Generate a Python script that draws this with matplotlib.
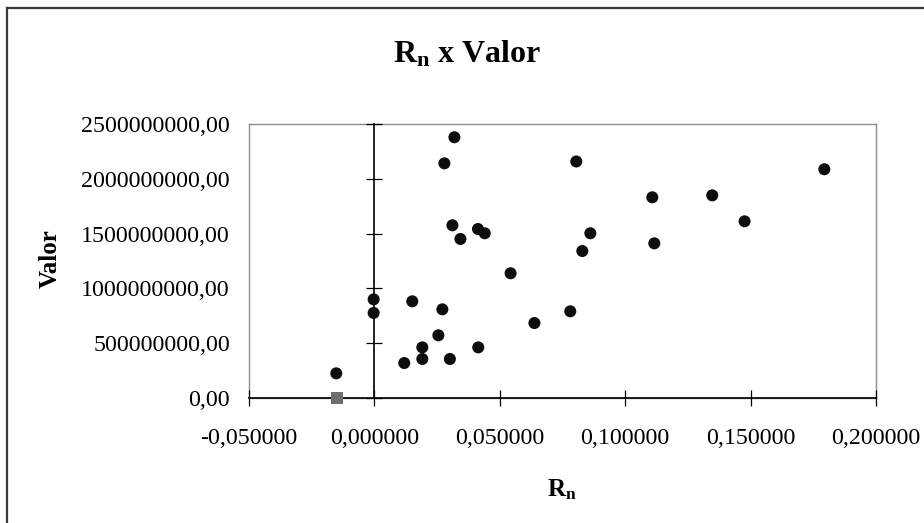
import matplotlib
matplotlib.use("Agg")
import matplotlib.pyplot as plt
from matplotlib.ticker import FuncFormatter, MultipleLocator
from matplotlib.lines import Line2D

plt.rcParams['font.family'] = ['Liberation Serif', 'DejaVu Serif']
plt.rcParams['mathtext.fontset'] = 'custom'
plt.rcParams['mathtext.rm'] = 'Liberation Serif'
plt.rcParams['mathtext.bf'] = 'Liberation Serif:bold'
plt.rcParams['mathtext.it'] = 'Liberation Serif:italic'

# ---- data ----
rn = [0.0319, 0.0279, 0.0805, 0.0311, 0.0413, 0.0440, 0.0343, 0.0829,
      0.0543, -0.0003, -0.0003, 0.0151, 0.0271, 0.0781, 0.0638, 0.0255,
      0.0191, 0.0414, 0.0191, 0.0301, 0.0119, -0.0152, 0.1794, 0.1108,
      0.1347, 0.1476, 0.0861, 0.1116]
valor = [2379e6, 2141e6, 2158e6, 1576e6, 1542e6, 1503e6, 1451e6, 1341e6,
         1138e6, 900e6, 776e6, 882e6, 809e6, 791e6, 684e6, 572e6,
         462e6, 462e6, 356e6, 356e6, 319e6, 225e6, 2087e6, 1831e6,
         1849e6, 1612e6, 1503e6, 1411e6]
rn2 = [-0.0150]
valor2 = [0.0]

title_txt = r'$\mathbf{R_n}$ x Valor'
xlabel_txt = r'$\mathbf{R_n}$'
ylabel_txt = 'Valor'

W, H = 924, 523
fig = plt.figure(figsize=(W / 100, H / 100), dpi=100)
fig.patch.set_facecolor('white')

pos = [249 / W, (H - 398) / H, 627 / W, 274 / H]

# frame axes with labels
ax = fig.add_axes(pos)
ax.set_xlim(-0.05, 0.2)
ax.set_ylim(0, 2.5e9)
ax.xaxis.set_major_locator(MultipleLocator(0.05))
ax.yaxis.set_major_locator(MultipleLocator(5e8))
ax.xaxis.set_major_formatter(FuncFormatter(lambda v, p: f"{v:.6f}".replace('.', ',')))
ax.yaxis.set_major_formatter(FuncFormatter(lambda v, p: f"{v:.2f}".replace('.', ',')))
ax.tick_params(axis='x', length=0, pad=21.5, labelsize=17.3)
ax.tick_params(axis='y', length=0, pad=13.7, labelsize=17.3)
for s in ax.spines.values():
    s.set_color('#8c8c8c')
    s.set_linewidth(1.0)

# axis-line overlay
ax2 = fig.add_axes(pos, sharex=ax, sharey=ax)
ax2.patch.set_visible(False)
ax2.spines['top'].set_visible(False)
ax2.spines['right'].set_visible(False)
ax2.spines['left'].set_position(('data', 0))
for k in ('left', 'bottom'):
    ax2.spines[k].set_color('black')
    ax2.spines[k].set_linewidth(1.2)
ax2.tick_params(axis='both', direction='inout', length=11.5, width=0.9,
                color='black', labelleft=False, labelbottom=False)

ax2.scatter(rn, valor, s=75, marker='o', color='#0d0d0d', edgecolors='none',
            zorder=5, clip_on=False)
ax2.scatter(rn2, valor2, s=70, marker='s', color='#6e6e6e', edgecolors='none',
            zorder=5, clip_on=False)

fig.text(467 / W, 1 - 62 / H, title_txt, ha='center', va='baseline',
         fontsize=23, fontweight='bold')
fig.text(562 / W, 1 - 490 / H, xlabel_txt, ha='center', va='center',
         fontsize=18, fontweight='bold')
fig.text(50 / W, 1 - 259 / H, ylabel_txt, ha='center', va='center',
         rotation=90, fontsize=18, fontweight='bold')

# outer chart border (left and top visible)
fig.add_artist(Line2D([7 / W, 7 / W], [0, 1 - 8 / H], transform=fig.transFigure,
                      color='#3a3a3a', linewidth=1.6))
fig.add_artist(Line2D([7 / W, 1], [1 - 8 / H, 1 - 8 / H], transform=fig.transFigure,
                      color='#3a3a3a', linewidth=1.6))

fig.savefig('out.png', dpi=100, facecolor='white')
